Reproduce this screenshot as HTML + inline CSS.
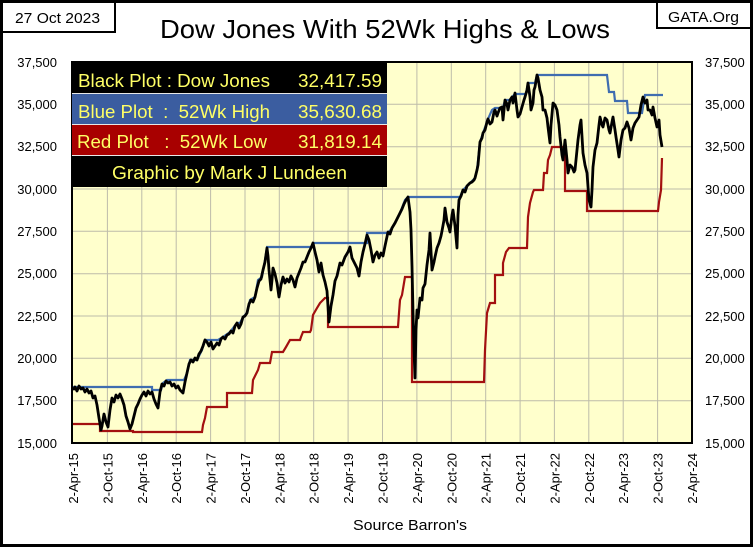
<!DOCTYPE html>
<html><head><meta charset="utf-8"><style>
html,body{margin:0;padding:0;background:#fff;}
svg{display:block;font-family:"Liberation Sans",Arial,sans-serif;}
</style></head><body>
<svg width="753" height="547" viewBox="0 0 753 547" xmlns="http://www.w3.org/2000/svg">
<rect x="0" y="0" width="753" height="547" fill="#fff"/>
<!-- plot bg -->
<rect x="73" y="62" width="619" height="381" fill="#ffffcc"/>
<!-- grid -->
<g stroke="#bdbcaa" stroke-width="1" fill="none">
<path d="M107.4,62V443M141.8,62V443M176.2,62V443M210.6,62V443M245,62V443M279.3,62V443M313.7,62V443M348.1,62V443M382.5,62V443M416.9,62V443M451.3,62V443M485.7,62V443M520.1,62V443M554.4,62V443M588.8,62V443M623.2,62V443M657.6,62V443"/>
<path d="M73,104.3H692M73,146.7H692M73,189H692M73,231.3H692M73,273.7H692M73,316H692M73,358.3H692M73,400.7H692"/>
</g>
<!-- red 52wk low -->
<path fill="none" stroke="#a31010" stroke-width="2.2" stroke-linejoin="miter" d="M73,424H100V431H133V432H202L203,425L205,418L207,407H227V393H252L253,380L258,370L260,363H270L272,352H283L286,347L290,340H300L301,337L303,332H310L311,330L313,315L317,308L320,303L325,298H328V327H398L399,313L400,300L402,295L405,277H412V382H484L485,350L487,313L490,303H495V275H503V263L506,252L509,248H527L528,217L530,203L533,192L534,190H543L544,173H547L548,160L550,155L552,147H565V191H587V211H658L659,202L661,190L662,158"/>
<!-- blue 52wk high -->
<path fill="none" stroke="#3f6db0" stroke-width="2.2" d="M73,387H152V390H161L163,383L167,380H184L187,373L190,360H197L202,350L205,340H218L223,337L230,332L237,323H240L243,317L247,313L250,300L255,297L258,280L262,277L265,260L267,247H313V243H367V233H388L392,228L395,223L400,213L405,200L408,197H460L463,190L470,183L475,178L477,170L480,142L483,133L488,119L492,110L495,108H503L505,100L510,100L512,97L515,94H526L528,83H535L537,75H607L609,92H614L615,101H627L628,113H642L645,95H663"/>
<!-- black dow -->
<polyline fill="none" stroke="#000" stroke-width="2.8" stroke-linejoin="round" points="73,390 75,387 77,391 79,386 81,389 83,388 85,392 87,389 89,393 91,391 93,398 95,396 97,405 99,418 101,430 102,426 104,414 106,422 108,427 110,410 112,398 114,402 116,395 118,398 120,394 122,399 124,405 126,416 128,422 130,429 132,424 134,416 136,408 138,404 140,399 142,395 144,392 146,396 148,391 150,394 152,392 154,399 156,404 158,408 160,392 162,384 164,386 166,381 168,383 170,382 172,386 174,384 176,388 178,386 180,390 182,392 183,393 185,382 187,373 189,364 191,360 193,362 195,358 197,360 199,354 201,351 203,346 205,340 207,342 209,346 211,342 213,349 215,346 217,343 219,345 221,339 223,337 225,339 227,335 229,334 231,331 233,333 235,326 237,323 239,328 241,324 243,317 245,316 247,313 249,304 251,300 253,302 255,297 257,288 259,281 261,279 263,270 265,262 267,248 268,256 269,270 271,290 272,280 273,268 275,274 277,283 279,297 281,285 283,277 285,283 287,279 289,282 291,276 293,280 295,287 297,278 299,273 301,268 303,262 305,262 307,257 309,252 311,248 313,243 315,252 317,260 319,272 321,263 323,275 325,282 327,291 329,322 331,306 333,295 335,281 337,276 340,263 342,265 345,257 348,252 350,247 352,258 354,262 357,268 359,276 361,262 363,252 365,244 367,235 369,240 371,250 373,262 375,255 377,252 379,258 381,253 383,256 385,246 388,232 390,234 392,228 395,223 397,219 400,213 402,209 404,204 406,200 408,197 410,212 411,230 412,266 413,312 414,350 415,378 416,330 417,310 418,318 420,298 422,300 423,288 425,284 427,265 429,250 430,233 432,270 434,262 435,257 437,248 439,243 441,236 442,231 444,220 445,208 447,222 449,228 450,232 452,215 453,210 455,226 457,248 458,215 459,200 461,196 463,190 465,192 467,186 470,183 472,182 474,180 475,178 477,170 478,165 480,142 482,138 483,133 485,130 487,122 488,119 490,124 492,122 494,112 495,110 497,116 498,113 500,108 502,107 503,120 505,100 507,104 508,110 510,100 512,97 513,103 515,93 517,110 518,117 520,114 522,107 524,100 525,97 527,90 528,83 530,97 531,110 533,103 534,90 535,87 537,75 538,78 540,90 542,97 543,110 545,110 547,118 548,127 550,143 551,125 553,103 555,105 557,110 559,125 560,137 562,155 563,160 565,140 567,160 568,173 570,165 572,167 574,172 575,170 577,150 578,140 580,125 581,120 583,153 585,165 587,173 589,200 591,207 592,190 593,167 595,150 597,143 599,125 600,117 602,125 603,127 605,118 607,120 609,130 610,133 612,122 613,117 615,130 616,137 618,150 619,157 621,140 623,130 625,128 627,122 629,128 631,140 633,128 635,123 637,120 639,117 641,105 643,97 645,103 647,100 648,110 650,110 652,115 653,107 655,118 657,127 659,120 660,135 662,147"/>
<!-- plot border -->
<rect x="72" y="62" width="620" height="381" fill="none" stroke="#000" stroke-width="2"/>
<!-- legend -->
<rect x="72" y="62" width="315" height="31" fill="#000"/>
<rect x="72" y="94" width="315" height="30" fill="#3b5da0"/>
<rect x="72" y="125" width="315" height="30" fill="#a80000"/>
<rect x="72" y="156" width="315" height="31" fill="#000"/>
<path d="M72,93.5H387M72,124.5H387M72,155.5H387" stroke="#e8e8e8" stroke-width="1"/>
<g fill="#ffff66" font-size="18">
<text x="78" y="87" textLength="192" lengthAdjust="spacingAndGlyphs">Black Plot : Dow Jones</text>
<text x="298" y="87" textLength="84" lengthAdjust="spacingAndGlyphs">32,417.59</text>
<text x="78" y="118" textLength="192" lengthAdjust="spacingAndGlyphs" xml:space="preserve">Blue Plot  :  52Wk High</text>
<text x="298" y="118" textLength="84" lengthAdjust="spacingAndGlyphs">35,630.68</text>
<text x="77" y="148" textLength="190" lengthAdjust="spacingAndGlyphs" xml:space="preserve">Red Plot   :  52Wk Low</text>
<text x="298" y="148" textLength="84" lengthAdjust="spacingAndGlyphs">31,819.14</text>
<text x="112" y="179" textLength="235" lengthAdjust="spacingAndGlyphs">Graphic by Mark J Lundeen</text>
</g>
<!-- y labels -->
<g font-size="13" fill="#000">
<g text-anchor="end">
<text x="57" y="67">37,500</text>
<text x="57" y="109">35,000</text>
<text x="57" y="151">32,500</text>
<text x="57" y="194">30,000</text>
<text x="57" y="236">27,500</text>
<text x="57" y="278">25,000</text>
<text x="57" y="321">22,500</text>
<text x="57" y="363">20,000</text>
<text x="57" y="405">17,500</text>
<text x="57" y="448">15,000</text>
</g>
<g>
<text x="705" y="67">37,500</text>
<text x="705" y="109">35,000</text>
<text x="705" y="151">32,500</text>
<text x="705" y="194">30,000</text>
<text x="705" y="236">27,500</text>
<text x="705" y="278">25,000</text>
<text x="705" y="321">22,500</text>
<text x="705" y="363">20,000</text>
<text x="705" y="405">17,500</text>
<text x="705" y="448">15,000</text>
</g>
</g>
<!-- x labels -->
<g font-size="13" fill="#000" text-anchor="end">
<text transform="translate(78,453) rotate(-90)">2-Apr-15</text>
<text transform="translate(112.4,453) rotate(-90)">2-Oct-15</text>
<text transform="translate(146.8,453) rotate(-90)">2-Apr-16</text>
<text transform="translate(181.2,453) rotate(-90)">2-Oct-16</text>
<text transform="translate(215.6,453) rotate(-90)">2-Apr-17</text>
<text transform="translate(250,453) rotate(-90)">2-Oct-17</text>
<text transform="translate(284.3,453) rotate(-90)">2-Apr-18</text>
<text transform="translate(318.7,453) rotate(-90)">2-Oct-18</text>
<text transform="translate(353.1,453) rotate(-90)">2-Apr-19</text>
<text transform="translate(387.5,453) rotate(-90)">2-Oct-19</text>
<text transform="translate(421.9,453) rotate(-90)">2-Apr-20</text>
<text transform="translate(456.3,453) rotate(-90)">2-Oct-20</text>
<text transform="translate(490.7,453) rotate(-90)">2-Apr-21</text>
<text transform="translate(525.1,453) rotate(-90)">2-Oct-21</text>
<text transform="translate(559.4,453) rotate(-90)">2-Apr-22</text>
<text transform="translate(593.8,453) rotate(-90)">2-Oct-22</text>
<text transform="translate(628.2,453) rotate(-90)">2-Apr-23</text>
<text transform="translate(662.6,453) rotate(-90)">2-Oct-23</text>
<text transform="translate(697,453) rotate(-90)">2-Apr-24</text>
</g>
<text x="353" y="530" font-size="15" textLength="114" lengthAdjust="spacingAndGlyphs">Source Barron's</text>
<!-- title -->
<text x="160" y="38" font-size="26" textLength="450" lengthAdjust="spacingAndGlyphs">Dow Jones With 52Wk Highs &amp; Lows</text>
<!-- date box -->
<rect x="1" y="1" width="114" height="31" fill="#fff" stroke="#000" stroke-width="2"/>
<text x="15" y="23" font-size="14.5" textLength="85" lengthAdjust="spacingAndGlyphs">27 Oct 2023</text>
<!-- GATA box -->
<rect x="657" y="1" width="95" height="27" fill="#fff" stroke="#000" stroke-width="2"/>
<text x="668" y="22" font-size="14.5" textLength="71" lengthAdjust="spacingAndGlyphs">GATA.Org</text>
<!-- outer frame -->
<rect x="1.5" y="1.5" width="750" height="544" fill="none" stroke="#000" stroke-width="3"/>
</svg>
</body></html>
